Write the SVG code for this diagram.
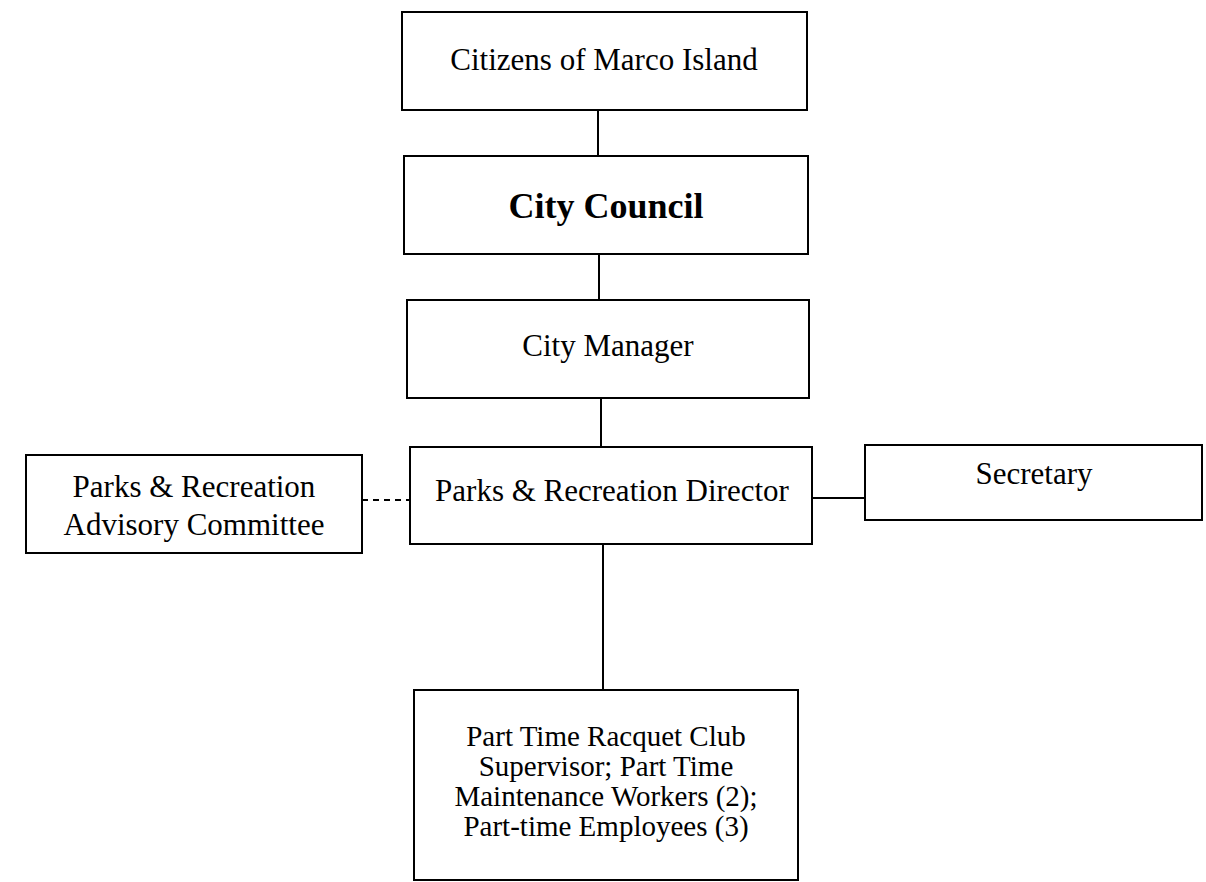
<svg xmlns="http://www.w3.org/2000/svg" width="1206" height="882" viewBox="0 0 1206 882">
  <style>
    .box { fill: #ffffff; stroke: #000000; stroke-width: 2; }
    .lbl { font-family: "Liberation Serif", "Times New Roman", serif; font-size: 31px; fill: #000000; text-anchor: middle; }
    .bold { font-weight: bold; font-size: 36px; }
    .small { font-size: 29px; }
    .link { stroke: #000000; stroke-width: 2; fill: none; }
    .dash { stroke-dasharray: 6 5; }
  </style>
  <rect width="1206" height="882" fill="#ffffff"/>

  <!-- reporting lines -->
  <g id="connectors">
    <line class="link" x1="598" y1="110" x2="598" y2="156"/>
    <line class="link" x1="599" y1="254" x2="599" y2="300"/>
    <line class="link" x1="601" y1="398" x2="601" y2="447"/>
    <line class="link dash" x1="362" y1="500" x2="410" y2="500"/>
    <line class="link" x1="812" y1="498" x2="865" y2="498"/>
    <line class="link" x1="603" y1="544" x2="603" y2="690"/>
  </g>

  <g id="citizens">
    <rect class="box" x="402" y="12" width="405" height="98"/>
    <text class="lbl" x="604" y="70" font-size="32">Citizens of Marco Island</text>
  </g>

  <g id="city-council">
    <rect class="box" x="404" y="156" width="404" height="98"/>
    <text class="lbl bold" x="606" y="218">City Council</text>
  </g>

  <g id="city-manager">
    <rect class="box" x="407" y="300" width="402" height="98"/>
    <text class="lbl" x="608" y="356">City Manager</text>
  </g>

  <g id="director">
    <rect class="box" x="410" y="447" width="402" height="97"/>
    <text class="lbl" x="612" y="501" font-size="32">Parks &amp; Recreation Director</text>
  </g>

  <g id="advisory-committee">
    <rect class="box" x="26" y="455" width="336" height="98"/>
    <text class="lbl" x="194" y="497" font-size="32">Parks &amp; Recreation</text>
    <text class="lbl" x="194" y="535" font-size="32">Advisory Committee</text>
  </g>

  <g id="secretary">
    <rect class="box" x="865" y="445" width="337" height="75"/>
    <text class="lbl" x="1034" y="484">Secretary</text>
  </g>

  <g id="part-time-staff">
    <rect class="box" x="414" y="690" width="384" height="190"/>
    <text class="lbl small" x="606" y="746">Part Time Racquet Club</text>
    <text class="lbl small" x="606" y="776">Supervisor; Part Time</text>
    <text class="lbl small" x="606" y="806">Maintenance Workers (2);</text>
    <text class="lbl small" x="606" y="836">Part-time Employees (3)</text>
  </g>
</svg>
